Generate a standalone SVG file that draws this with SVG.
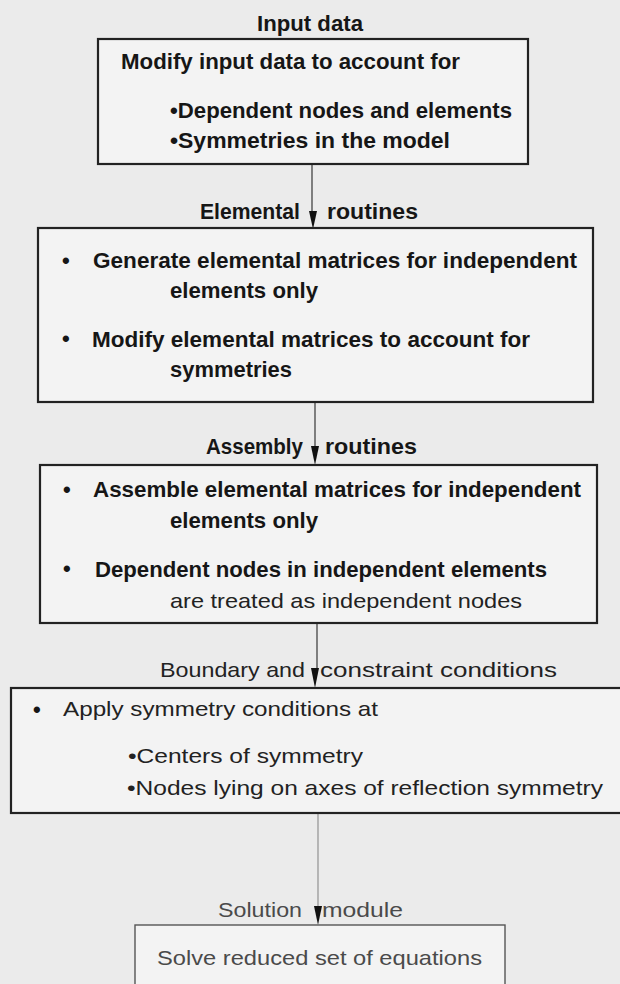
<svg xmlns="http://www.w3.org/2000/svg" width="620" height="984" viewBox="0 0 620 984">
<style>
.bg{fill:#ebebeb}
.box{fill:#f3f3f3;stroke:#222;stroke-width:2.2}
.t{font-family:"Liberation Sans",Arial,sans-serif;font-size:22px;fill:#161616}
.b{font-weight:bold}
.r{font-weight:normal;fill:#222;font-size:21px}
.l{font-weight:normal;fill:#4a4a4a;font-size:21px}
.conn{stroke:#444;stroke-width:1.3;fill:none}
.arr{fill:#111}
</style>
<rect class="bg" x="0" y="0" width="620" height="984"/>
<g id="connectors">
<line class="conn" x1="312" y1="164" x2="312" y2="214"/>
<polygon class="arr" points="309,211 317,211 313,229"/>
<line class="conn" x1="315" y1="402" x2="315" y2="448"/>
<polygon class="arr" points="311,446 319,446 315,465"/>
<line class="conn" x1="317" y1="623" x2="317" y2="670"/>
<polygon class="arr" points="311,668 319,668 315,688"/>
<line class="conn" x1="318" y1="813" x2="318" y2="908" style="stroke:#999"/>
<polygon class="arr" points="314,906 322,906 318,925"/>
</g>
<g id="labels">
<text class="t b" x="257" y="31" textLength="106" lengthAdjust="spacingAndGlyphs">Input data</text>
<text class="t b" x="200" y="219" textLength="100" lengthAdjust="spacingAndGlyphs">Elemental</text>
<text class="t b" x="327" y="219" textLength="91" lengthAdjust="spacingAndGlyphs">routines</text>
<text class="t b" x="206" y="454" textLength="97" lengthAdjust="spacingAndGlyphs">Assembly</text>
<text class="t b" x="325" y="454" textLength="92" lengthAdjust="spacingAndGlyphs">routines</text>
<text class="t r" x="160" y="677" textLength="145" lengthAdjust="spacingAndGlyphs">Boundary and</text>
<text class="t r" x="320" y="677" textLength="237" lengthAdjust="spacingAndGlyphs">constraint conditions</text>
<text class="t l" x="218" y="917" textLength="84" lengthAdjust="spacingAndGlyphs">Solution</text>
<text class="t l" x="322" y="917" textLength="81" lengthAdjust="spacingAndGlyphs">module</text>
</g>
<g id="node1">
<rect class="box" x="98" y="39" width="430" height="125"/>
<text class="t b" x="121" y="69" textLength="339" lengthAdjust="spacingAndGlyphs">Modify input data to account for</text>
<text class="t b" x="170" y="118" textLength="342" lengthAdjust="spacingAndGlyphs">•Dependent nodes and elements</text>
<text class="t b" x="170" y="148" textLength="280" lengthAdjust="spacingAndGlyphs">•Symmetries in the model</text>
</g>
<g id="node2">
<rect class="box" x="38" y="228" width="555" height="174"/>
<text class="t b" x="62" y="268">•</text>
<text class="t b" x="93" y="268" textLength="484" lengthAdjust="spacingAndGlyphs">Generate elemental matrices for independent</text>
<text class="t b" x="170" y="298" textLength="148" lengthAdjust="spacingAndGlyphs">elements only</text>
<text class="t b" x="62" y="346">•</text>
<text class="t b" x="92" y="347" textLength="438" lengthAdjust="spacingAndGlyphs">Modify elemental matrices to account for</text>
<text class="t b" x="170" y="377" textLength="122" lengthAdjust="spacingAndGlyphs">symmetries</text>
</g>
<g id="node3">
<rect class="box" x="40" y="465" width="557" height="158"/>
<text class="t b" x="63" y="497">•</text>
<text class="t b" x="93" y="497" textLength="488" lengthAdjust="spacingAndGlyphs">Assemble elemental matrices for independent</text>
<text class="t b" x="170" y="528" textLength="148" lengthAdjust="spacingAndGlyphs">elements only</text>
<text class="t b" x="63" y="576">•</text>
<text class="t b" x="95" y="577" textLength="452" lengthAdjust="spacingAndGlyphs">Dependent nodes in independent elements</text>
<text class="t r" x="170" y="608" textLength="352" lengthAdjust="spacingAndGlyphs">are treated as independent nodes</text>
</g>
<g id="node4">
<rect class="box" x="11" y="688" width="630" height="125"/>
<text class="t b" x="33" y="717">•</text>
<text class="t r" x="63" y="716" textLength="315" lengthAdjust="spacingAndGlyphs">Apply symmetry conditions at</text>
<text class="t r" x="128" y="763" textLength="235" lengthAdjust="spacingAndGlyphs">•Centers of symmetry</text>
<text class="t r" x="127" y="795" textLength="476" lengthAdjust="spacingAndGlyphs">•Nodes lying on axes of reflection symmetry</text>
</g>
<g id="node5">
<rect class="box" x="135" y="925" width="370" height="80" style="stroke:#555;stroke-width:1.4"/>
<text class="t l" x="157" y="965" textLength="325" lengthAdjust="spacingAndGlyphs">Solve reduced set of equations</text>
</g>
</svg>
